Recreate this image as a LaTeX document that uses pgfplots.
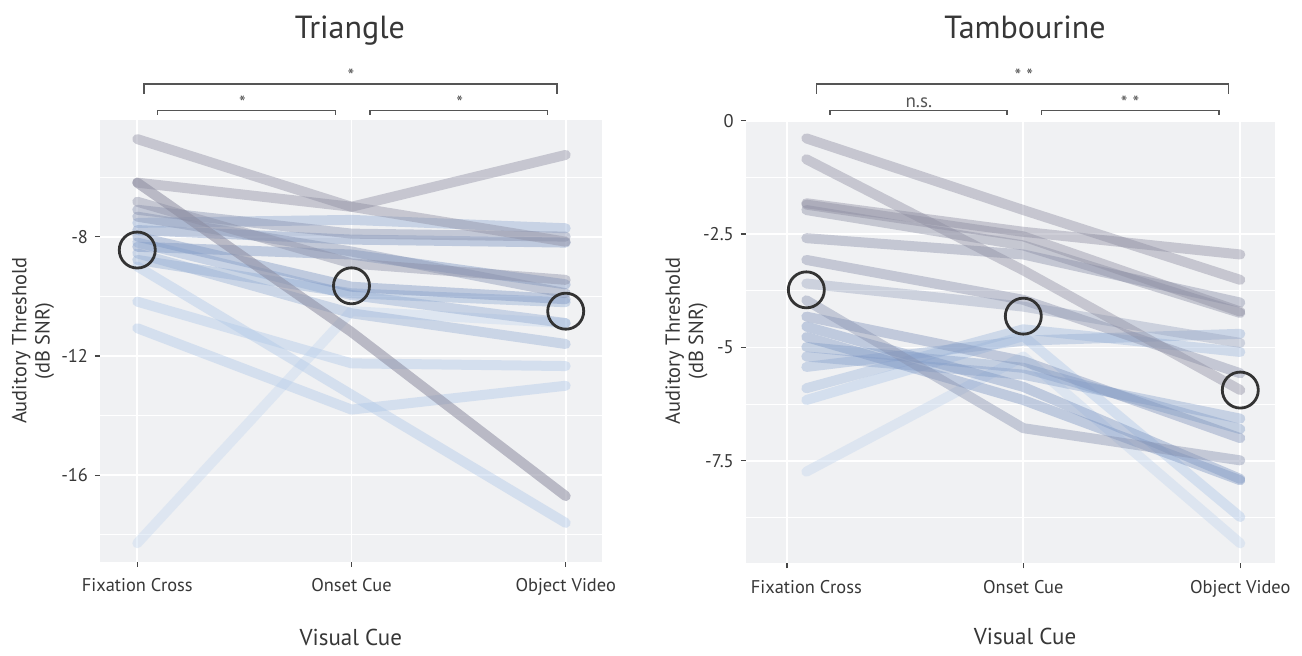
\documentclass[border=0pt]{standalone}
\usepackage{pgfplots}
\pgfplotsset{compat=1.18}
\usepackage{fontspec}
\setmainfont{PT Sans}
\definecolor{bgc}{RGB}{240,241,243}
\definecolor{gA}{RGB}{140,140,160}
\definecolor{gB}{RGB}{125,150,195}
\definecolor{gC}{RGB}{175,200,232}
\definecolor{txt}{RGB}{55,55,55}
\definecolor{tk}{RGB}{70,70,70}
\definecolor{brk}{RGB}{85,85,85}
\pgfplotsset{
  panel/.style={
    scale only axis, anchor=south west,
    axis background/.style={fill=bgc},
    axis line style={draw=none},
    xmajorgrids, ymajorgrids, yminorgrids,
    major grid style={white, line width=0.9pt},
    minor grid style={white, line width=0.45pt},
    tick align=outside, major tick length=2.5pt, minor tick length=0pt,
    xtick pos=bottom, ytick pos=left,
    tick style={tk, line width=0.6pt},
    xtick={0,1,2}, xticklabels={Fixation Cross,Onset Cue,Object Video},
    ticklabel style={font=\fontsize{9.2}{11}\selectfont, text=txt},
    xticklabel style={yshift=-2.5pt},
    every axis title shift=0pt,
    title style={font=\fontsize{16}{18}\selectfont, text=txt, anchor=base},
    every axis x label/.style={font=\fontsize{11.5}{13}\selectfont, text=txt, anchor=center},
    every axis y label/.style={font=\fontsize{10.2}{11.6}\selectfont, text=txt, anchor=center, rotate=90, align=center},
    ylabel={Auditory Threshold\\(dB SNR)},
    xlabel={Visual Cue},
    clip=false,
  },
  subj/.style={line width=5pt, line cap=round, line join=round, opacity=0.42, no markers},
  meanc/.style={only marks, mark=o, mark size=9pt, mark options={line width=1.4pt, draw=black!80}},
}
\begin{document}
\begin{tikzpicture}[x=1pt,y=1pt]
\useasboundingbox (0,0) rectangle (651,327.5);
% ---------------- Triangle ----------------
\begin{axis}[panel, at={(50pt,46.65pt)}, width=250.85pt, height=220.85pt,
  xmin=-0.174, xmax=2.168, ymin=-18.9, ymax=-4.09,
  ytick={-16,-12,-8}, yticklabels={-16,-12,-8}, minor ytick={-18,-14,-10,-6},
  title={Triangle}, title style={at={(axis description cs:0.498,1.1856)}},
  xlabel style={at={(axis description cs:0.5,-0.171)}},
  ylabel style={at={(axis description cs:-0.1335,0.5)}},
]
\addplot[subj, color=gC!70!white] coordinates {(0,-18.28) (1,-10.5) (2,-10.9)};
\addplot[subj, color=gC] coordinates {(0,-11.07) (1,-13.8) (2,-13.0)};
\addplot[subj, color=gC] coordinates {(0,-10.18) (1,-12.25) (2,-12.34)};
\addplot[subj, color=gC] coordinates {(0,-9.0) (1,-13.3) (2,-17.6)};
\addplot[subj, color=gB!55!gC] coordinates {(0,-8.78) (1,-9.9) (2,-10.2)};
\addplot[subj, color=gB!50!gC] coordinates {(0,-8.56) (1,-10.57) (2,-11.6)};
\addplot[subj, color=gB] coordinates {(0,-8.34) (1,-8.6) (2,-9.6)};
\addplot[subj, color=gB!60!gC] coordinates {(0,-8.2) (1,-9.96) (2,-10.9)};
\addplot[subj, color=gB] coordinates {(0,-8.0) (1,-9.68) (2,-10.1)};
\addplot[subj, color=gB] coordinates {(0,-7.78) (1,-8.1) (2,-8.2)};
\addplot[subj, color=gB!60!gC] coordinates {(0,-7.54) (1,-7.44) (2,-7.72)};
\addplot[subj, color=gA!50!gB] coordinates {(0,-7.33) (1,-8.5) (2,-9.9)};
\addplot[subj, color=gA!60!gB] coordinates {(0,-7.1) (1,-7.9) (2,-8.0)};
\addplot[subj, color=gA!85!gB] coordinates {(0,-6.83) (1,-8.9) (2,-9.45)};
\addplot[subj, color=gA, opacity=0.55] coordinates {(0,-6.19) (1,-11.2) (2,-16.7)};
\addplot[subj, color=gA] coordinates {(0,-6.19) (1,-7.0) (2,-8.17)};
\addplot[subj, color=gA] coordinates {(0,-4.73) (1,-7.0) (2,-5.26)};
\addplot[meanc] coordinates {(0,-8.45) (1,-9.65) (2,-10.5)};
\end{axis}
% ---------------- Tambourine ----------------
\begin{axis}[panel, at={(372.9pt,45.85pt)}, width=264.6pt, height=221.65pt,
  xmin=-0.279, xmax=2.16, ymin=-9.76, ymax=0.015,
  xtick={-0.089,1,2}, xticklabels={,Onset Cue,Object Video},
  extra x ticks={0}, extra x tick labels={Fixation Cross},
  extra x tick style={tick style={draw=none}, xmajorgrids=false},
  ytick={-7.5,-5,-2.5,0}, yticklabels={-7.5,-5,-2.5,0}, minor ytick={-8.75,-6.25,-3.75,-1.25},
  title={Tambourine}, title style={at={(axis description cs:0.5276,1.185)}},
  xlabel style={at={(axis description cs:0.5276,-0.166)}},
  ylabel style={at={(axis description cs:-0.112,0.5015)}},
]
\addplot[subj, color=gC!75!white] coordinates {(0,-7.74) (1,-5.2) (2,-9.32)};
\addplot[subj, color=gC] coordinates {(0,-6.16) (1,-4.75) (2,-8.74)};
\addplot[subj, color=gC!70!gB] coordinates {(0,-5.9) (1,-4.6) (2,-5.1)};
\addplot[subj, color=gB!50!gC] coordinates {(0,-5.43) (1,-4.85) (2,-4.7)};
\addplot[subj, color=gB!70!gC] coordinates {(0,-5.2) (1,-5.6) (2,-6.57)};
\addplot[subj, color=gB!80!gC] coordinates {(0,-4.99) (1,-5.45) (2,-6.8)};
\addplot[subj, color=gB] coordinates {(0,-4.77) (1,-6.16) (2,-7.93)};
\addplot[subj, color=gB] coordinates {(0,-4.54) (1,-5.87) (2,-7.9)};
\addplot[subj, color=gB!80!gA] coordinates {(0,-4.32) (1,-5.3) (2,-7.0)};
\addplot[subj, color=gA!60!gB] coordinates {(0,-3.96) (1,-6.78) (2,-7.49)};
\addplot[subj, color=gA!55!gC] coordinates {(0,-3.59) (1,-4.1) (2,-4.9)};
\addplot[subj, color=gA!70!gB] coordinates {(0,-3.07) (1,-3.95) (2,-5.57)};
\addplot[subj, color=gA!80!gB] coordinates {(0,-2.59) (1,-2.95) (2,-4.01)};
\addplot[subj, color=gA!90!gB] coordinates {(0,-1.97) (1,-2.75) (2,-4.24)};
\addplot[subj, color=gA] coordinates {(0,-1.85) (1,-2.55) (2,-4.21)};
\addplot[subj, color=gA] coordinates {(0,-1.82) (1,-2.45) (2,-2.95)};
\addplot[subj, color=gA] coordinates {(0,-0.85) (1,-3.3) (2,-5.94)};
\addplot[subj, color=gA] coordinates {(0,-0.39) (1,-1.97) (2,-3.51)};
\addplot[meanc] coordinates {(0,-3.73) (1,-4.31) (2,-5.94)};
\end{axis}
% ---------------- significance brackets ----------------
\begin{scope}[brk, line width=0.7pt]
\draw (71.9,280.5) -- (71.9,285.5) -- (278.5,285.5) -- (278.5,280.5);
\draw (78.75,270) -- (78.75,272.15) -- (167.7,272.15) -- (167.7,270);
\draw (185,270) -- (185,272.15) -- (273.75,272.15) -- (273.75,270);
\draw (408.35,280.5) -- (408.35,285.5) -- (614.15,285.5) -- (614.15,280.5);
\draw (415,270) -- (415,272.15) -- (503.5,272.15) -- (503.5,270);
\draw (520.85,270) -- (520.85,272.15) -- (609.4,272.15) -- (609.4,270);
\end{scope}
\begin{scope}[every node/.style={text=brk, font=\fontsize{9.5}{10}\selectfont, inner sep=0pt}]
\node[anchor=base] at (175.5,286.3) {*};
\node[anchor=base] at (121.25,272.9) {*};
\node[anchor=base] at (229.8,272.9) {*};
\node[anchor=base] at (511.9,286.3) {* *};
\node[anchor=base] at (459.4,273.6) {n.s.};
\node[anchor=base] at (565,272.9) {* *};
\end{scope}
\end{tikzpicture}
\end{document}
